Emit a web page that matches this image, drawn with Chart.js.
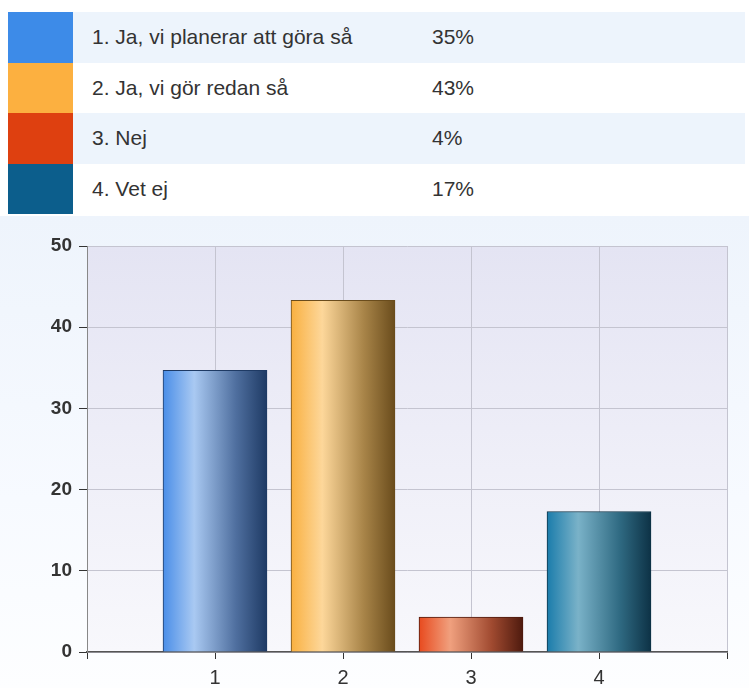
<!DOCTYPE html>
<html>
<head>
<meta charset="utf-8">
<script src="https://cdn.jsdelivr.net/npm/chart.js@4/dist/chart.umd.min.js"></script>
<style>
  body { margin: 0; width: 749px; height: 688px; background: #fff; overflow: hidden; font-family: 'Liberation Sans', Arial, sans-serif; }
  #legend { position: absolute; left: 8px; top: 12px; width: 737px; border-collapse: collapse; }
  #legend td { height: 50.5px; padding: 0; font-size: 21px; color: #333; }
  #legend td.sw { width: 65px; }
  #legend td.txt { padding-left: 19px; width: 340px; }
  #legend tr:nth-child(odd) td.txt, #legend tr:nth-child(odd) td.pct { background: #edf4fc; }
  #wrap { position: absolute; left: 0; top: 216px; width: 749px; height: 472px;
          background: linear-gradient(to bottom, #eef4fc 0%, #f7faff 60%, #fdfeff 100%); }
</style>
</head>
<body>
<table id="legend"></table>
<div id="wrap"><canvas id="chart" width="749" height="472"></canvas></div>
<script>
// Svar och andelar
const answers = ['1. Ja, vi planerar att göra så', '2. Ja, vi gör redan så', '3. Nej', '4. Vet ej'];
const percentLabels = ['35%', '43%', '4%', '17%'];
const xLabels = ['', '1', '2', '3', '4', ''];
const values = [null, 34.7, 43.3, 4.3, 17.3, null];
const yTicks = [0, 10, 20, 30, 40, 50];

// färger: ruta, vänster, ljus, mörk
const swatch = ['#3d8be8', '#fcb040', '#de4010', '#0c5e8c'];
const shades = [
    ['#4a8ee8', '#a9c9f2', '#4f6f9f', '#1e3a64'],
    ['#f9b040', '#fdd79a', '#a88448', '#6a4c1c'],
    ['#e84a1e', '#f0a07e', '#a04a30', '#4e1a0e'],
    ['#1a7cab', '#7ab2c8', '#2f6a82', '#0d3246']
];

const table = document.getElementById('legend');
answers.forEach(function (a, i) {
    const tr = document.createElement('tr');
    tr.innerHTML = '<td class="sw" style="background:' + swatch[i] + '"></td>' +
        '<td class="txt">' + a + '</td><td class="pct">' + percentLabels[i] + '</td>';
    table.appendChild(tr);
});

function barGradient(c) {
    const chart = c.chart;
    const i = c.dataIndex - 1;
    if (i < 0 || i > 3 || !chart.chartArea) return '#888';
    const x = chart.scales.x.getPixelForValue(c.dataIndex);
    const g = chart.ctx.createLinearGradient(x - 52, 0, x + 52, 0);
    const s = shades[i];
    g.addColorStop(0, s[0]);
    g.addColorStop(0.3, s[1]);
    g.addColorStop(0.7, s[2]);
    g.addColorStop(1, s[3]);
    return g;
}

const plotBg = {
    id: 'plotBg',
    beforeDraw(chart) {
        const a = chart.chartArea, ctx = chart.ctx;
        const g = ctx.createLinearGradient(0, a.top, 0, a.bottom);
        g.addColorStop(0, '#e4e4f3');
        g.addColorStop(1, '#f8f8fc');
        ctx.save();
        ctx.fillStyle = g;
        ctx.fillRect(a.left, a.top, a.right - a.left, a.bottom - a.top);
        ctx.restore();
    }
};

new Chart(document.getElementById('chart'), {
    type: 'bar',
    data: {
        labels: xLabels,
        datasets: [{
            data: values,
            backgroundColor: barGradient,
            borderColor: function (c) { return c.dataIndex > 0 && c.dataIndex < 5 ? shades[c.dataIndex - 1][3] : '#555'; },
            borderWidth: 1,
            borderSkipped: 'bottom',
            barThickness: 104
        }]
    },
    options: {
        responsive: false,
        animation: false,
        layout: { padding: { left: 0, right: 22, top: 30, bottom: 0 } },
        plugins: { legend: { display: false }, tooltip: { enabled: false } },
        scales: {
            x: {
                offset: false,
                grid: { color: '#c4c4d0', tickColor: '#333', tickLength: 7, offset: false },
                border: { color: '#555', width: 1.5 },
                ticks: { color: '#333', font: { family: 'Liberation Sans', size: 20 }, padding: 7, maxRotation: 0, autoSkip: false },
                afterFit(s) { s.height = 36; }
            },
            y: {
                min: 0,
                max: 50,
                afterBuildTicks(s) { s.ticks = yTicks.map(function (v) { return { value: v }; }); },
                grid: { color: '#c4c4d0', tickColor: '#333', tickLength: 8 },
                border: { color: '#888' },
                ticks: { color: '#333', font: { family: 'Liberation Sans', size: 19, weight: 'bold' }, padding: 7 },
                afterFit(s) { s.width = 87; }
            }
        }
    },
    plugins: [plotBg]
});
</script>
</body>
</html>
